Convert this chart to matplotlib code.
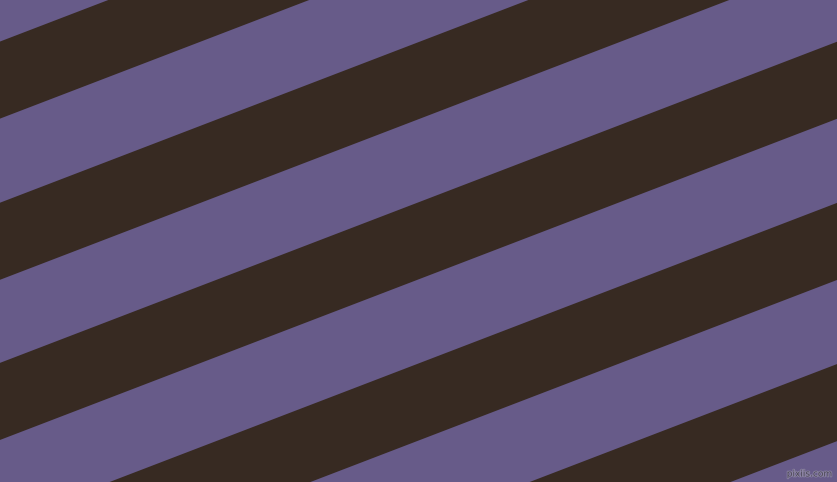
import numpy as np
import matplotlib
matplotlib.use("Agg")
import matplotlib.pyplot as plt
import matplotlib.patheffects as pe

# canvas size in pixels
W, H = 837, 482

# stripe geometry (y of each dark band's upper edge at x=0)
dark_tops = [-119, 42, 203, 363, 524, 685]
dark_height = 77          # vertical thickness of a dark band
slope = 321 / 837         # bands climb ~21 degrees to the right

purple = "#675b89"
dark = "#372a22"

fig = plt.figure(figsize=(8.375, 4.825), dpi=100)
ax = fig.add_axes([0, 0, 1, 1])
ax.set_facecolor(purple)
fig.patch.set_facecolor(purple)

x = np.array([0, W])
for top in dark_tops:
    y1 = top - slope * x
    y2 = top + dark_height - slope * x
    ax.fill_between(x, y1, y2, color=dark, linewidth=0)

ax.set_xlim(0, W)
ax.set_ylim(H, 0)
ax.axis("off")

# small watermark, bottom right
ax.text(832, 474, "pixiis.com", fontsize=6.5, color="#4a4654",
        ha="right", va="center",
        path_effects=[pe.withStroke(linewidth=1.2, foreground="#8c84a4")])

fig.savefig("out.png", dpi=100, facecolor=purple)
